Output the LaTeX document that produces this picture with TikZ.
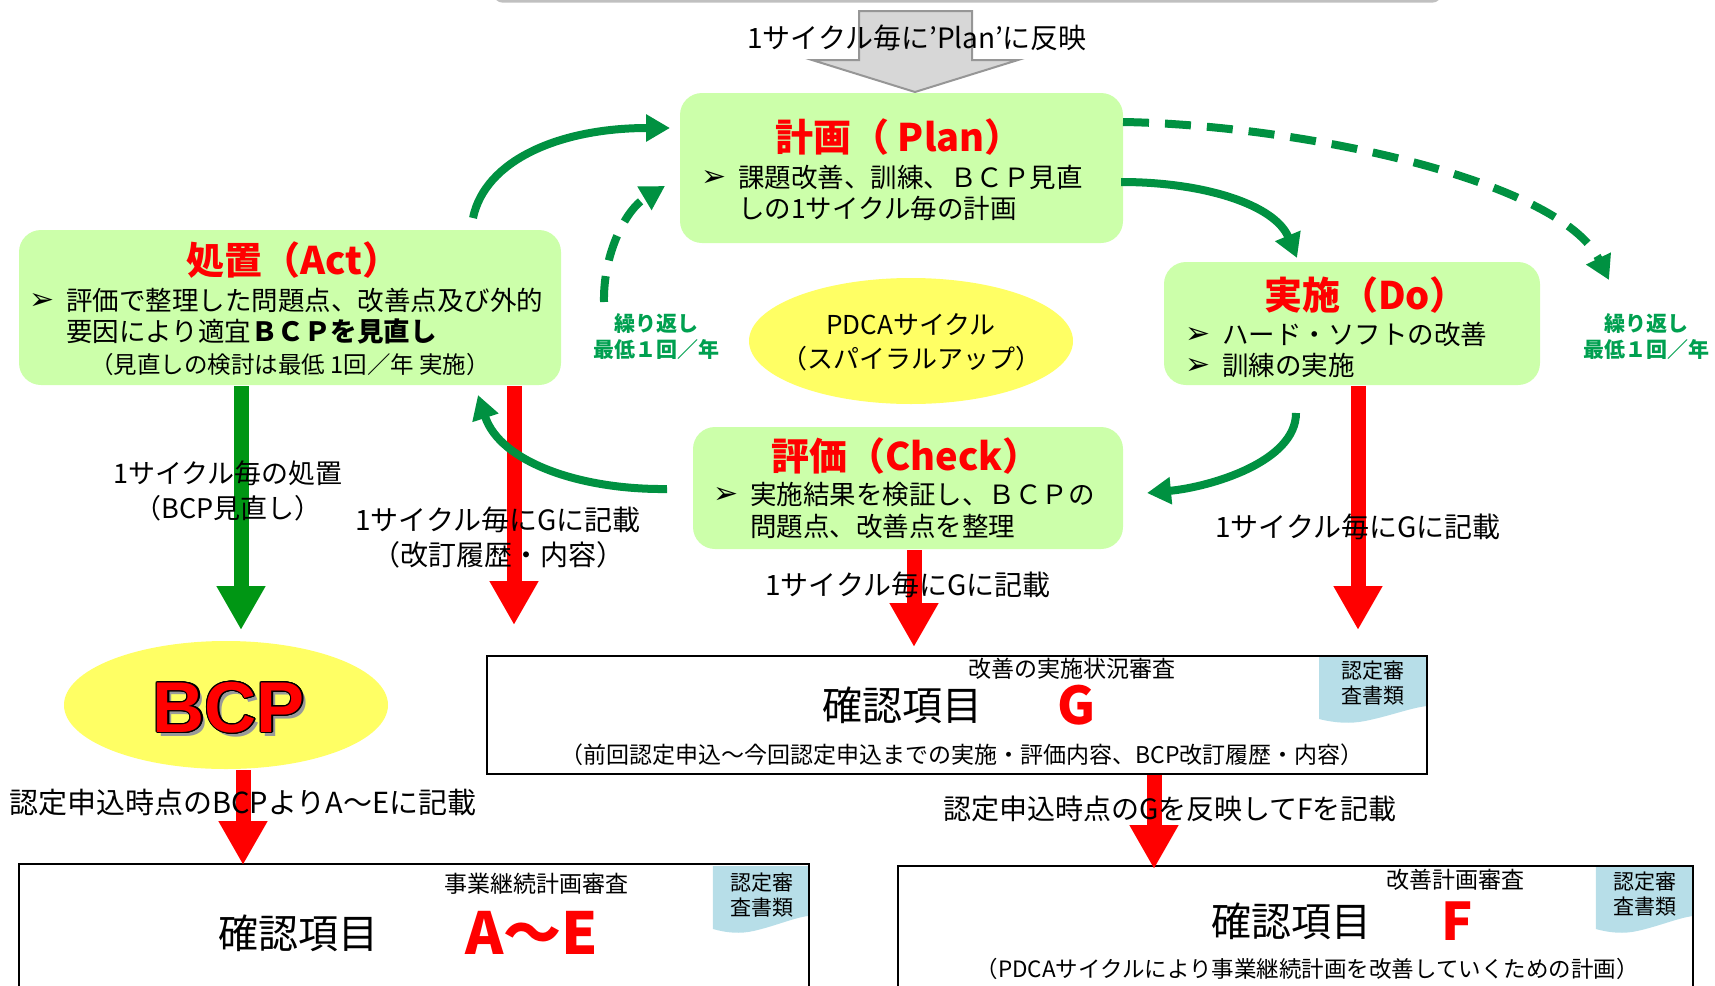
\documentclass[tikz,border=0pt]{standalone}
\usepackage{fontspec}
\setmainfont{Noto Sans CJK JP}
\newfontfamily\latfont{Liberation Sans}
\newfontfamily\dejavu{DejaVu Sans}
\usepackage{contour}
\contourlength{1.1pt}
\usetikzlibrary{arrows.meta,shapes.geometric}
\definecolor{boxgreen}{RGB}{204,255,170}
\definecolor{elly}{RGB}{255,255,100}
\definecolor{arrgreen}{RGB}{0,150,20}
\definecolor{curvegreen}{RGB}{0,145,65}
\definecolor{txtgreen}{RGB}{0,160,80}
\definecolor{tabblue}{RGB}{183,222,232}
\definecolor{arrgray}{RGB}{215,215,215}
\definecolor{bordergray}{RGB}{150,150,150}
\begin{document}
\begin{tikzpicture}[x=1pt,y=-1pt,
  greenbox/.style={fill=boxgreen, rounded corners=22pt, inner sep=0pt},
  ttl/.style={text=red, font=\bfseries\fontsize{38}{42}\selectfont, inner sep=0pt},
  bodytxt/.style={font=\fontsize{26.5}{30}\selectfont, anchor=west, inner sep=0pt},
  bullet/.style={font=\dejavu\fontsize{30}{32}\selectfont, inner sep=0pt},
  lbl/.style={font=\fontsize{28}{35}\selectfont, align=center, inner sep=0pt},
  grtxt/.style={text=txtgreen, font=\bfseries\fontsize{21}{26}\selectfont, align=center, inner sep=0pt},
  yell/.style={ellipse, fill=elly, inner sep=0pt},
  redarrow/.style={draw=red, line width=15pt, -{Triangle[length=44pt,width=46pt]}},
  greenarrow/.style={draw=arrgreen, line width=15pt, -{Triangle[length=44pt,width=46pt]}},
  curvearrow/.style={draw=curvegreen, line width=8pt, -{Triangle[length=24pt,width=26pt]}},
  dasharrow/.style={curvearrow, dash pattern=on 26pt off 16pt},
  checkbox/.style={draw=black, line width=1.6pt},
  boxsub/.style={font=\fontsize{23}{26}\selectfont, inner sep=0pt},
  boxmain/.style={font=\fontsize{40}{44}\selectfont, inner sep=0pt},
  boxletter/.style={text=red, font=\bfseries\fontsize{52}{56}\selectfont, inner sep=0pt},
  boxnote/.style={font=\fontsize{23}{26}\selectfont, inner sep=0pt},
  tabtxt/.style={font=\fontsize{21}{25}\selectfont, align=center, inner sep=0pt},
  tabpic/.pic={\fill[tabblue] (0,0) -- (-108,0) -- (-108,63) .. controls (-92,67) and (-77,68) .. (-62,65) .. controls (-37,60) and (-17,52) .. (0,50) -- cycle;}
]
\useasboundingbox (0,0) rectangle (1715,985);
\clip (0,0) rectangle (1715,985);

% top box edge
\draw[bordergray!60, line width=3pt, rounded corners=6pt] (496,-30) rectangle (1439,1);
% big gray arrow
\draw[bordergray, fill=arrgray, line width=2pt] (859,11) -- (972,11) -- (972,60) -- (1018,60) -- (915,92) -- (812,60) -- (859,60) -- cycle;
\node[lbl] (toplbl) at (917,38) {1サイクル毎に'Plan'に反映};

% green boxes
\node[greenbox, minimum width=443pt, minimum height=150pt] (plan) at (901.5,168) {};
\node[greenbox, minimum width=542pt, minimum height=155pt] (act) at (290,307.5) {};
\node[greenbox, minimum width=376pt, minimum height=123pt] (do) at (1352,323.5) {};
\node[greenbox, minimum width=430pt, minimum height=122pt] (check) at (908,488) {};

% plan text
\node[ttl] (plant) at (899,137) {計画（ Plan）};
\node[bullet] (planb) at (714,178) {➢};
\node[bodytxt] (plan1) at (738,177) {課題改善、訓練、ＢＣＰ見直};
\node[bodytxt] (plan2) at (738,208) {しの1サイクル毎の計画};
% act text
\node[ttl] (actt) at (293,260) {処置（Act）};
\node[bullet] (actb) at (42,301) {➢};
\node[bodytxt] (act1) at (66,300) {評価で整理した問題点、改善点及び外的};
\node[bodytxt] (act2) at (66,331) {要因により適宜\textbf{ＢＣＰを見直し}};
\node[font=\fontsize{23.5}{26}\selectfont, inner sep=0pt] (act3) at (290,365) {（見直しの検討は最低 1回／年 実施）};
% do text
\node[ttl] (dot) at (1366,295) {実施（Do）};
\node[bullet] (dob1) at (1198,335) {➢};
\node[bodytxt] (do1) at (1222,334) {ハード・ソフトの改善};
\node[bullet] (dob2) at (1198,366) {➢};
\node[bodytxt] (do2) at (1222,365) {訓練の実施};
% check text
\node[ttl] (checkt) at (906,456) {評価（Check）};
\node[bullet] (checkb) at (726,495) {➢};
\node[bodytxt] (check1) at (750,494) {実施結果を検証し、ＢＣＰの};
\node[bodytxt] (check2) at (750,526) {問題点、改善点を整理};

% PDCA ellipse
\node[yell, minimum width=324pt, minimum height=126pt] (pdca) at (911,341) {};
\node[font=\fontsize{26}{34}\selectfont, align=center, inner sep=0pt] (pdcatxt) at (911,342) {PDCAサイクル\\（スパイラルアップ）};

% green repeat labels
\node[grtxt] (rep1) at (656,337) {繰り返し\\最低１回／年};
\node[grtxt] (rep2) at (1646,337) {繰り返し\\最低１回／年};

% BCP ellipse
\node[yell, minimum width=324pt, minimum height=128pt] (bcp) at (226,705) {};
\node[text=black!40, font=\latfont\bfseries\fontsize{72}{72}\selectfont, inner sep=0pt] (bcpshadow) at (233,712) {BCP};
\node[font=\latfont\bfseries\fontsize{72}{72}\selectfont, inner sep=0pt] (bcptxt) at (229,708) {\contour{black}{\textcolor{red}{BCP}}};

% box G
\pic at (1427,656) {tabpic};
\node[checkbox, minimum width=940pt, minimum height=118pt, inner sep=0pt] (boxg) at (957,715) {};
\node[tabtxt] (tabg) at (1373,683) {認定審\\査書類};
\node[boxsub] (gsub) at (1072,669) {改善の実施状況審査};
\node[boxmain] (gmain) at (902,705) {確認項目};
\node[boxletter] (gletter) at (1077,705) {G};
\node[boxnote] (gnote) at (962,755) {（前回認定申込～今回認定申込までの実施・評価内容、BCP改訂履歴・内容）};

% box A-E
\pic[xscale=0.88] at (808,866) {tabpic};
\node[checkbox, minimum width=790pt, minimum height=150pt, inner sep=0pt] (boxae) at (414,939) {};
\node[tabtxt] (tabae) at (762,895) {認定審\\査書類};
\node[boxsub] (aesub) at (536,884) {事業継続計画審査};
\node[boxmain] (aemain) at (298,933) {確認項目};
\node[boxletter, font=\bfseries\fontsize{58}{60}\selectfont] (aeletter) at (532,933) {A～E};

% box F
\pic[xscale=0.9] at (1693,866) {tabpic};
\node[checkbox, minimum width=795pt, minimum height=150pt, inner sep=0pt] (boxf) at (1295.5,941) {};
\node[tabtxt] (tabf) at (1645,894) {認定審\\査書類};
\node[boxsub] (fsub) at (1455,880) {改善計画審査};
\node[boxmain] (fmain) at (1291,921) {確認項目};
\node[boxletter] (fletter) at (1457,921) {F};
\node[boxnote, font=\fontsize{22.5}{26}\selectfont] (fnote) at (1307,969) {（PDCAサイクルにより事業継続計画を改善していくための計画）};

% straight arrows
\coordinate (g1a) at (241,386);
\coordinate (g1b) at (241,630);
\coordinate (r1a) at (514,386);
\coordinate (r1b) at (514,625);
\coordinate (r2a) at (914,550);
\coordinate (r2b) at (914,647);
\coordinate (r3a) at (1358,386);
\coordinate (r3b) at (1358,630);
\coordinate (r4a) at (243,770);
\coordinate (r4b) at (243,865);
\coordinate (r5a) at (1154,775);
\coordinate (r5b) at (1154,869);
\draw[greenarrow] (g1a) -- (g1b);
\draw[redarrow] (r1a) -- (r1b);
\draw[redarrow] (r2a) -- (r2b);
\draw[redarrow] (r3a) -- (r3b);
\draw[redarrow] (r4a) -- (r4b);
\draw[redarrow] (r5a) -- (r5b);

% curved arrows
\coordinate (c1a) at (473,218);
\coordinate (c1b) at (670,128);
\coordinate (c2a) at (1121,182);
\coordinate (c2b) at (1297,258);
\coordinate (c3a) at (1296,413);
\coordinate (c3b) at (1147,493);
\coordinate (c4a) at (667,489);
\coordinate (c4b) at (478,395);
\coordinate (c5a) at (604,302);
\coordinate (c5b) at (665,186);
\coordinate (c6a) at (1123,122);
\coordinate (c6b) at (1609,280);
\draw[curvearrow] (c1a) .. controls (485,160) and (560,128) .. (c1b);
\draw[curvearrow] (c2a) .. controls (1205,182) and (1275,205) .. (c2b);
\draw[curvearrow] (c3a) .. controls (1296,462) and (1210,487) .. (c3b);
\draw[curvearrow] (c4a) .. controls (580,490) and (500,462) .. (c4b);
\draw[dasharrow] (c5a) .. controls (603,255) and (625,210) .. (c5b);
\draw[dasharrow] (c6a) .. controls (1300,125) and (1560,180) .. (c6b);

% arrow labels (drawn over arrows)
\node[lbl, font=\fontsize{27}{35}\selectfont] (lblg1) at (228,491) {1サイクル毎の処置\\（BCP見直し）};
\node[lbl] (lblr1) at (498,538) {1サイクル毎にGに記載\\（改訂履歴・内容）};
\node[lbl] (lblr2) at (908,585) {1サイクル毎にGに記載};
\node[lbl] (lblr3) at (1358,527) {1サイクル毎にGに記載};
\node[lbl, anchor=west, font=\fontsize{29}{35}\selectfont] (lblr4) at (9,803) {認定申込時点のBCPよりA～Eに記載};
\node[lbl] (lblr5) at (1170,809) {認定申込時点のGを反映してFを記載};
\end{tikzpicture}
\end{document}
